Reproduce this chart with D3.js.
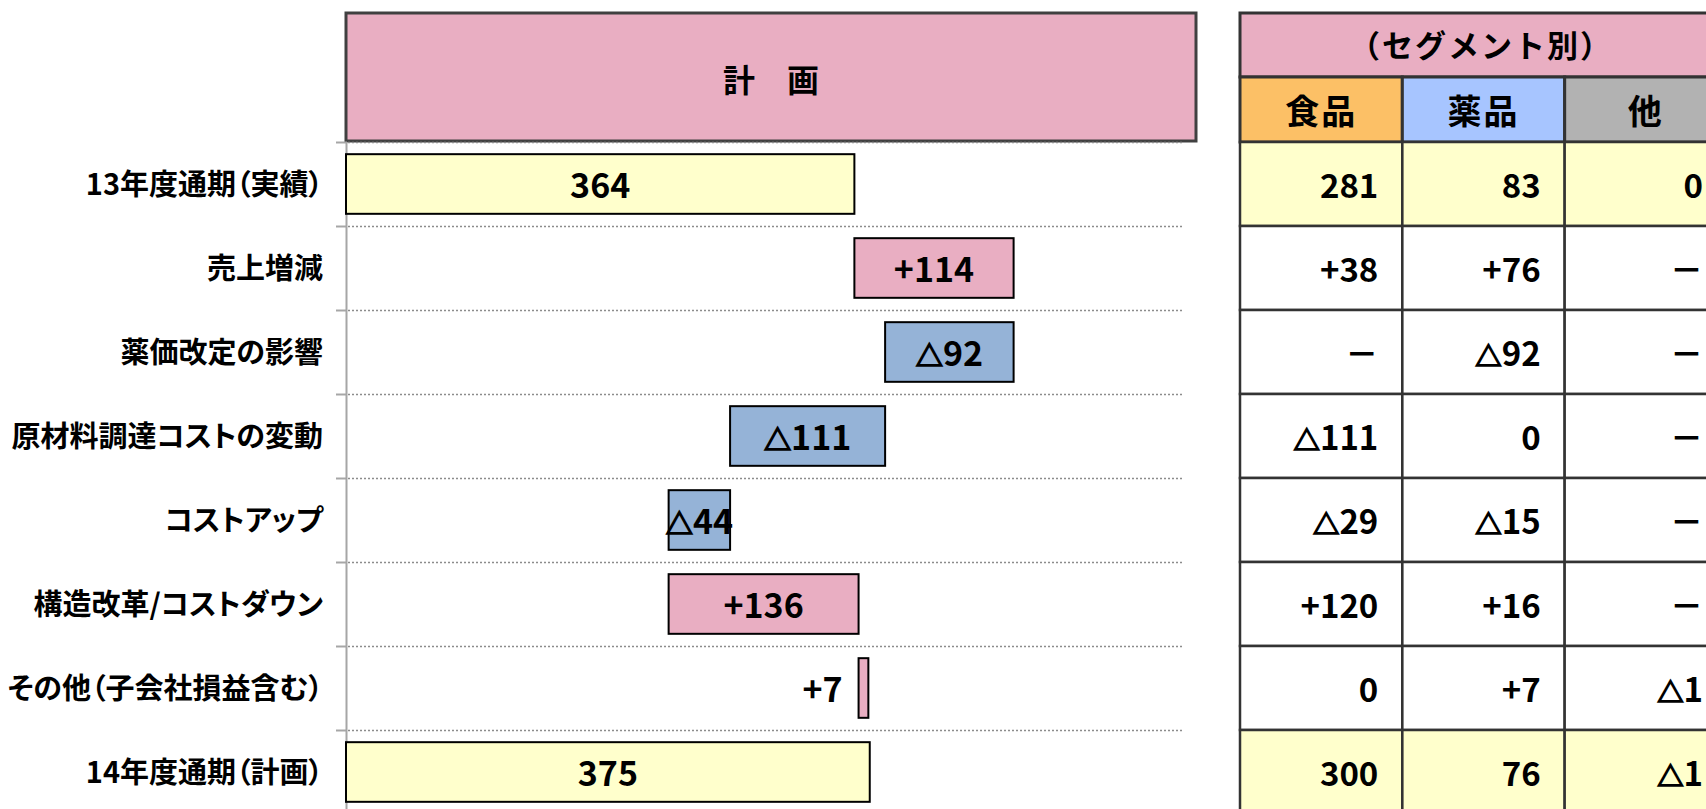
<!DOCTYPE html>
<html>
<head>
<meta charset="utf-8">
<script src="https://cdn.jsdelivr.net/npm/d3@7"></script>
<style>
  body { margin: 0; background: #fff; overflow: hidden; }
  text { font-family: "Noto Sans CJK JP", sans-serif; }
  text.lab { font-feature-settings: "palt"; }
</style>
</head>
<body>
<svg id="chart"></svg>
<script>
// row labels (top to bottom)
var categories = [
  "13年度通期（実績）",
  "売上増減",
  "薬価改定の影響",
  "原材料調達コストの変動",
  "コストアップ",
  "構造改革/コストダウン",
  "その他（子会社損益含む）",
  "14年度通期（計画）"
];
// waterfall values: totals at both ends, changes in between
var barValues = [364, 114, -92, -111, -44, 136, 7, 375];
var barKinds = ["total", "delta", "delta", "delta", "delta", "delta", "delta", "total"];

// segment table
var segmentNames = ["食品", "薬品", "他"];
var foodValues = ["281", "+38", "－", "△111", "△29", "+120", "0", "300"];
var pharmaValues = ["83", "+76", "△92", "0", "△15", "+16", "+7", "76"];
var otherValues = ["0", "－", "－", "－", "－", "－", "△1", "△1"];

var pink = "#E9AEC2", yellow = "#FFFFCC", blue = "#95B3D7";
var headColors = { "食品": "#FCC066", "薬品": "#A7C5FF", "他": "#B2B2B2" };

var svg = d3.select("#chart").attr("width", 1706).attr("height", 809);
svg.append("rect").attr("width", 1706).attr("height", 809).attr("fill", "#fff");

var x = d3.scaleLinear().domain([0, 600]).range([346, 1184]);
var row = d3.scaleBand().domain(categories).range([142, 814]);
var col = d3.scaleBand().domain(segmentNames).range([1240, 1727]);

// running totals for the waterfall
var running = 0;
var bars = categories.map(function(c, i) {
  var v = barValues[i], x0, x1;
  if (barKinds[i] == "total") {
    x0 = 0; x1 = v; running = v;
  } else {
    x0 = running; x1 = running + v; running = running + v;
  }
  return { cat: c, value: v, kind: barKinds[i], lo: Math.min(x0, x1), hi: Math.max(x0, x1) };
});

function fmt(d) {
  if (d.kind == "total") return "" + d.value;
  return d.value > 0 ? "+" + d.value : "△" + Math.abs(d.value);
}

// the △ glyph is thin in Noto, so shrink it a bit and thicken it with a stroke
function writeVal(sel, getStr) {
  sel.each(function(d, i) {
    var el = d3.select(this), s = getStr(d, i);
    if (s.charAt(0) == "△") {
      el.append("tspan").attr("font-size", "0.8em")
        .attr("stroke", "#000").attr("stroke-width", 1.5).text("△");
      el.append("tspan").text(s.slice(1));
    } else {
      el.text(s);
    }
  });
}

// header box
svg.append("rect")
  .attr("x", 346).attr("y", 13).attr("width", 850).attr("height", 128)
  .attr("fill", pink).attr("stroke", "#404040").attr("stroke-width", 3);
svg.append("text")
  .attr("x", 771).attr("y", 80).attr("dy", "0.36em")
  .attr("text-anchor", "middle")
  .attr("font-size", 32).attr("font-weight", "bold")
  .text("計　画");

// dotted row lines + small ticks
var g = svg.append("g");
g.selectAll("line.grid")
  .data(categories)
  .enter()
  .append("line")
  .attr("class", "grid")
  .attr("x1", 348).attr("x2", 1184)
  .attr("y1", function(d) { return row(d) + 0.5; })
  .attr("y2", function(d) { return row(d) + 0.5; })
  .attr("stroke", "#8c8c8c").attr("stroke-width", 1.5).attr("stroke-dasharray", "2,2");
g.selectAll("line.tick")
  .data(categories)
  .enter()
  .append("line")
  .attr("class", "tick")
  .attr("x1", 336).attr("x2", 347)
  .attr("y1", function(d) { return row(d) + 0.5; })
  .attr("y2", function(d) { return row(d) + 0.5; })
  .attr("stroke", "#a6a6a6").attr("stroke-width", 2);
g.append("line")
  .attr("x1", 346.5).attr("x2", 346.5).attr("y1", 142).attr("y2", 809)
  .attr("stroke", "#a6a6a6").attr("stroke-width", 2);

// row labels
g.selectAll("text.lab")
  .data(categories)
  .enter()
  .append("text")
  .attr("class", "lab")
  .attr("x", 323)
  .attr("y", function(d) { return row(d) + row.bandwidth() / 2 + 1; })
  .attr("dy", "0.36em")
  .attr("text-anchor", "end")
  .attr("font-size", 29).attr("font-weight", "bold")
  .text(function(d) { return d; });

// bars
var barH = row.bandwidth() * 0.71;
g.selectAll("rect.bar")
  .data(bars)
  .enter()
  .append("rect")
  .attr("class", "bar")
  .attr("x", function(d) { return x(d.lo); })
  .attr("y", function(d) { return row(d.cat) + (row.bandwidth() - barH) / 2; })
  .attr("width", function(d) { return x(d.hi) - x(d.lo); })
  .attr("height", barH)
  .attr("fill", function(d) {
    if (d.kind == "total") return yellow;
    return d.value > 0 ? pink : blue;
  })
  .attr("stroke", "#000").attr("stroke-width", 2);

var vals = g.selectAll("text.val")
  .data(bars)
  .enter()
  .append("text")
  .attr("class", "val")
  .attr("x", function(d) {
    var w = x(d.hi) - x(d.lo);
    if (w < 30) return x(d.lo) - 16;
    return (x(d.lo) + x(d.hi)) / 2;
  })
  .attr("y", function(d) { return row(d.cat) + row.bandwidth() / 2 + 2; })
  .attr("dy", "0.36em")
  .attr("text-anchor", function(d) { return x(d.hi) - x(d.lo) < 30 ? "end" : "middle"; })
  .attr("font-size", 34).attr("font-weight", "bold");
writeVal(vals, fmt);

// segment table
var t = svg.append("g");
t.append("rect")
  .attr("x", 1240).attr("y", 13).attr("width", 487).attr("height", 64)
  .attr("fill", pink).attr("stroke", "#333").attr("stroke-width", 3);
t.append("text")
  .attr("x", 1481).attr("y", 46).attr("dy", "0.36em")
  .attr("text-anchor", "middle")
  .attr("font-size", 31).attr("font-weight", "bold").attr("letter-spacing", 2)
  .text("（セグメント別）");

t.selectAll("rect.head")
  .data(segmentNames)
  .enter()
  .append("rect")
  .attr("class", "head")
  .attr("x", function(d) { return col(d); }).attr("y", 77)
  .attr("width", col.bandwidth()).attr("height", 65)
  .attr("fill", function(d) { return headColors[d]; })
  .attr("stroke", "#333").attr("stroke-width", 3);
t.selectAll("text.head")
  .data(segmentNames)
  .enter()
  .append("text")
  .attr("class", "head")
  .attr("x", function(d) { return col(d) + col.bandwidth() / 2; }).attr("y", 112)
  .attr("dy", "0.36em")
  .attr("text-anchor", "middle")
  .attr("font-size", 34).attr("font-weight", "bold").attr("letter-spacing", 2)
  .text(function(d) { return d; });

var columns = [foodValues, pharmaValues, otherValues];
segmentNames.forEach(function(s, j) {
  var cells = t.selectAll("g.c" + j)
    .data(categories)
    .enter()
    .append("g")
    .attr("class", "c" + j);
  cells.append("rect")
    .attr("x", col(s)).attr("y", function(d) { return row(d); })
    .attr("width", col.bandwidth()).attr("height", row.bandwidth())
    .attr("fill", function(d, i) { return barKinds[i] == "total" ? yellow : "#fff"; })
    .attr("stroke", "#333").attr("stroke-width", 2.5);
  var txt = cells.append("text")
    .attr("x", col(s) + col.bandwidth() - 24)
    .attr("y", function(d) { return row(d) + row.bandwidth() / 2 + 2; })
    .attr("dy", "0.36em")
    .attr("text-anchor", "end")
    .attr("font-size", 33).attr("font-weight", "bold");
  writeVal(txt, function(d, i) { return columns[j][i]; });
});
</script>
</body>
</html>
